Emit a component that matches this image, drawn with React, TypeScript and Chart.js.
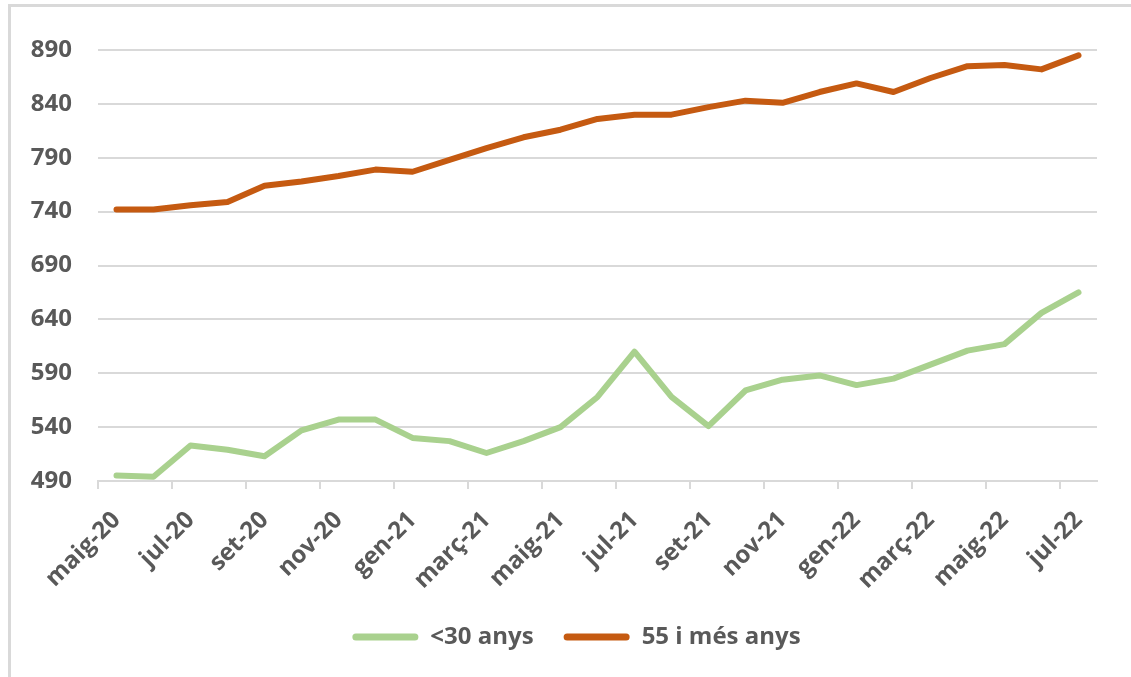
import React, { useEffect, useRef } from "react";
import { Chart, registerables } from "chart.js";

Chart.register(...registerables);

const months: string[] = [
  "maig-20", "juny-20", "jul-20", "ag-20", "set-20", "oct-20", "nov-20", "des-20",
  "gen-21", "febr-21", "març-21", "abr-21", "maig-21", "juny-21", "jul-21", "ag-21",
  "set-21", "oct-21", "nov-21", "des-21", "gen-22", "febr-22", "març-22", "abr-22",
  "maig-22", "juny-22", "jul-22",
];

const under30: number[] = [
  495, 494, 523, 519, 513, 537, 547, 547, 530, 527, 516, 527, 540, 568, 610,
  568, 541, 574, 584, 588, 579, 585, 598, 611, 617, 646, 665,
];

const over55: number[] = [
  742, 742, 746, 749, 764, 768, 773, 779, 777, 788, 799, 809, 816, 826, 830,
  830, 837, 843, 841, 851, 859, 851, 864, 875, 876, 872, 885,
];

const seriesNames: string[] = ["<30 anys", "55 i més anys"];
const yMin = 490;
const yMax = 890;
const yStep = 50;

const GRID = "#d9d9d9";
const TEXT = "#595959";
const FONT = "'Open Sans', 'DejaVu Sans', sans-serif";

const framePlugin = {
  id: "frame",
  beforeDraw(chart: any) {
    const ctx = chart.ctx;
    ctx.save();
    ctx.fillStyle = "#ffffff";
    ctx.fillRect(0, 0, chart.width, chart.height);
    ctx.fillStyle = GRID;
    ctx.fillRect(8, 4, 3, chart.height - 4);
    ctx.fillRect(8, 4, chart.width - 8, 3);
    ctx.restore();
  },
};

const legendShift = {
  id: "legendShift",
  afterLayout(chart: any) {
    const lg = chart.legend;
    if (lg) {
      lg.left += 28;
      lg.right += 28;
    }
  },
};

export default function App() {
  const ref = useRef<HTMLCanvasElement | null>(null);

  useEffect(() => {
    if (!ref.current) return;
    const chart = new Chart(ref.current, {
      type: "line",
      data: {
        labels: months,
        datasets: [
          {
            label: seriesNames[0],
            data: under30,
            borderColor: "#a9d18e",
            backgroundColor: "#a9d18e",
            borderWidth: 6,
            pointRadius: 0,
            tension: 0,
            borderCapStyle: "round",
            borderJoinStyle: "round",
          },
          {
            label: seriesNames[1],
            data: over55,
            borderColor: "#c55a11",
            backgroundColor: "#c55a11",
            borderWidth: 6,
            pointRadius: 0,
            tension: 0,
            borderCapStyle: "round",
            borderJoinStyle: "round",
          },
        ],
      },
      options: {
        responsive: false,
        animation: false,
        layout: { padding: { top: 50, right: 34, left: 0, bottom: 18 } },
        plugins: {
          tooltip: { enabled: false },
          legend: {
            position: "bottom",
            labels: {
              color: TEXT,
              font: { family: FONT, size: 24, weight: "bold" },
              boxWidth: 66,
              boxHeight: 7,
              padding: 30,
              useBorderRadius: true,
              borderRadius: 3.5,
              generateLabels: (chart: any) =>
                chart.data.datasets.map((ds: any, i: number) => ({
                  text: ds.label,
                  fillStyle: ds.borderColor,
                  strokeStyle: ds.borderColor,
                  lineWidth: 0,
                  fontColor: TEXT,
                  datasetIndex: i,
                  hidden: false,
                  borderRadius: 3.5,
                })),
            },
          },
        },
        scales: {
          x: {
            type: "category",
            offset: true,
            afterFit: (scale: any) => {
              scale.height = 114;
            },
            grid: {
              offset: true,
              drawOnChartArea: false,
              drawTicks: true,
              tickLength: 8,
              lineWidth: 2,
              color: (c: any) => (c.index % 2 === 0 ? GRID : "rgba(0,0,0,0)"),
            },
            border: { display: true, color: GRID, width: 2 },
            ticks: {
              autoSkip: false,
              minRotation: 45,
              maxRotation: 45,
              padding: 17,
              color: TEXT,
              font: { family: FONT, size: 24, weight: "bold" },
              callback: (_v: any, i: number) => (i % 2 === 0 ? months[i] : ""),
            },
          },
          y: {
            min: yMin,
            max: yMax,
            afterFit: (scale: any) => {
              scale.width = 98;
            },
            grid: { color: GRID, lineWidth: 2, drawTicks: false },
            border: { display: false },
            ticks: {
              stepSize: yStep,
              padding: 26,
              color: TEXT,
              font: { family: FONT, size: 24, weight: "bold" },
            },
          },
        },
      },
      plugins: [framePlugin, legendShift],
    });
    return () => chart.destroy();
  }, []);

  return (
    <div style={{ position: "fixed", left: 0, top: 0, width: 1131, height: 677, background: "#fff" }}>
      <canvas ref={ref} width={1131} height={677} style={{ display: "block" }} />
    </div>
  );
}
